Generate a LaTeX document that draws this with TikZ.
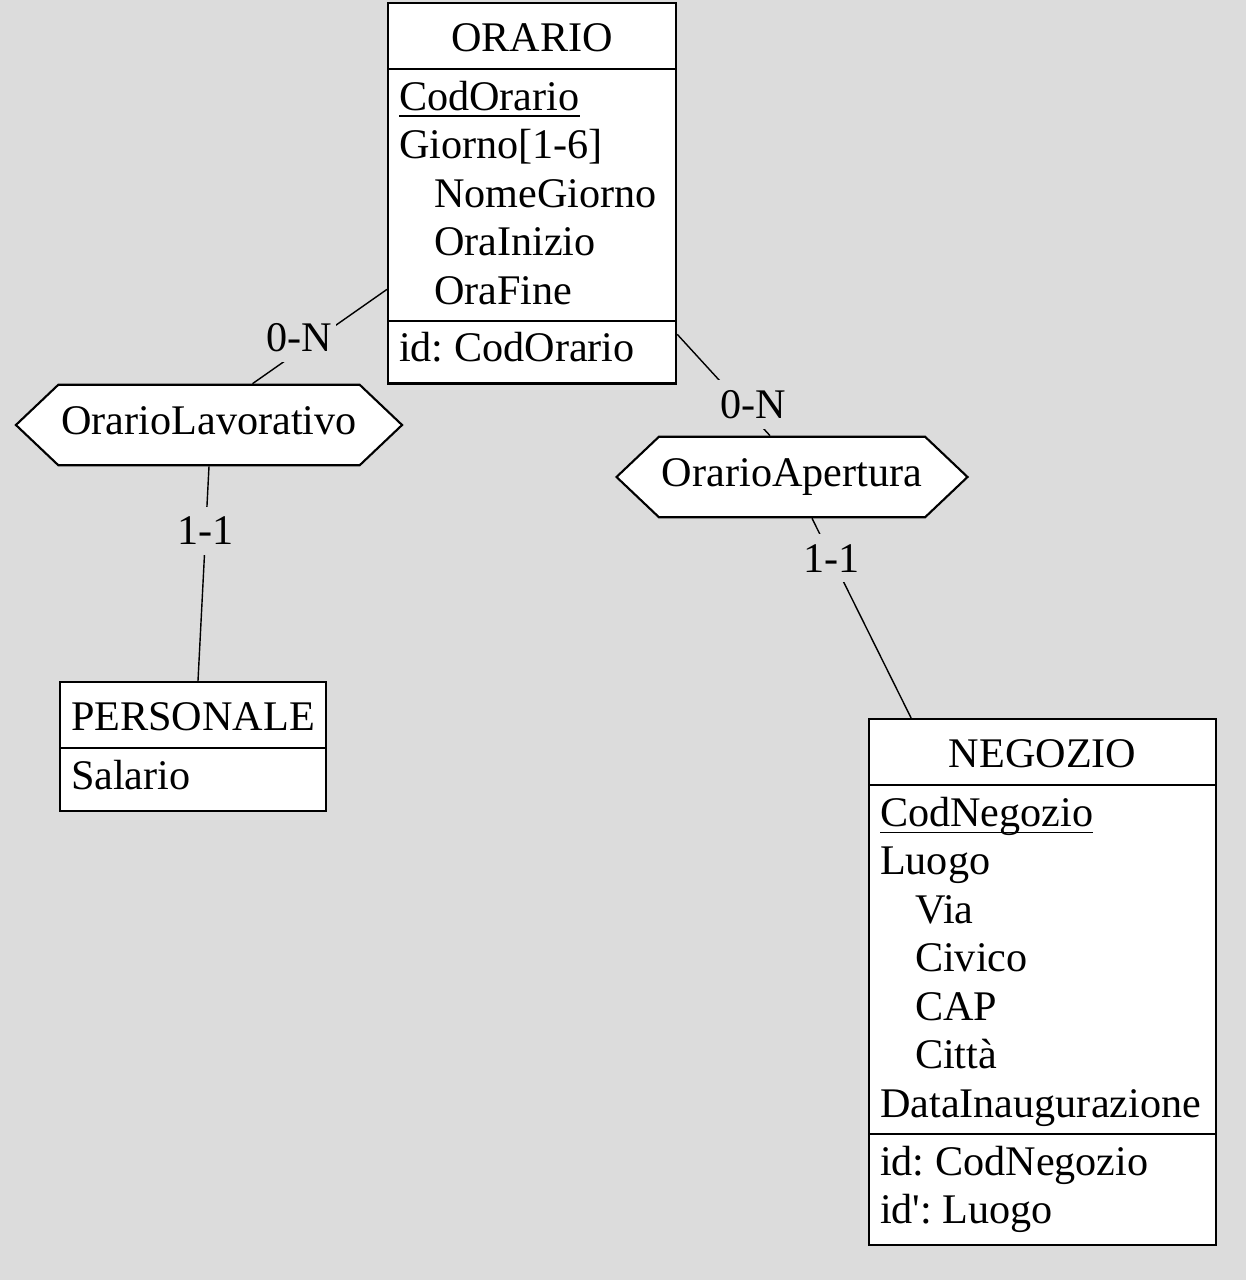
\documentclass[tikz,border=0pt]{standalone}
\usepackage{fontspec}
\setmainfont{Liberation Serif}
\usetikzlibrary{shapes.multipart,shapes.symbols}
\definecolor{sfondo}{RGB}{220,220,220}
\frenchspacing
% underlined identifier, line close under the baseline
\newcommand{\chiave}[1]{\setbox0\hbox{#1}\rlap{\rule[-2pt]{\wd0}{0.5pt}}#1}
\newcommand{\sotto}{\hspace*{0.35cm}}
% struts for title line and last attribute line
\newcommand{\testa}{\rule[-0.105cm]{0pt}{0.52cm}}
\newcommand{\fine}{\rule[-0.095cm]{0pt}{0.095cm}}
\tikzset{
    %Define style for entities
    entita/.style={
           rectangle split,
           rectangle split parts=#1,
           rectangle split part align={center,left,left},
           draw=black, line width=0.6pt,
           fill=white,
           align=left,
           anchor=north west,
           inner xsep=0.11cm,
           inner ysep=0.06cm},
    %Define style for relationships
    relazione/.style={
           signal,
           signal to=west and east,
           signal pointer angle=87,
           draw=black, line width=0.6pt,
           fill=white,
           inner xsep=0.03cm,
           inner ysep=0.16cm},
    % cardinalities
    card/.style={
           fill=sfondo,
           inner xsep=0.04cm,
           inner ysep=0.1cm},
    collega/.style={
           draw=black,
           line width=0.4pt}
}
\begin{document}
\begin{tikzpicture}[x=0.01cm,y=-0.01cm,font=\fontsize{12}{13.8}\selectfont]
\fill[sfondo] (0,0) rectangle (1246,1280);
\useasboundingbox (0,0) rectangle (1246,1280);

 %entities
\node[entita=3, minimum width=2.88cm] (orario) at (387,2)
    {\testa ORARIO
     \nodepart{two}\strut\chiave{CodOrario}\\
        Giorno[1-6]\\
        \sotto NomeGiorno\\
        \sotto OraInizio\\
        \sotto OraFine\fine
     \nodepart{three}\strut id: CodOrario\strut};
\node[entita=2, minimum width=2.62cm] (personale) at (59,681)
    {\testa PERSONALE
     \nodepart{two}\strut Salario\strut};
\node[entita=3, minimum width=3.47cm] (negozio) at (868,718)
    {\testa NEGOZIO
     \nodepart{two}\strut\chiave{CodNegozio}\\
        Luogo\\
        \sotto Via\\
        \sotto Civico\\
        \sotto CAP\\
        \sotto Città\\
        DataInaugurazione\fine
     \nodepart{three}\strut id: CodNegozio\\
        id\textquotesingle: Luogo\strut};

 %relationships
\node[relazione] (lavorativo) at (209,425) {\strut OrarioLavorativo};
\node[relazione] (apertura) at (792,477) {\strut OrarioApertura};

\draw[collega] ([yshift=-0.96cm]orario.west)
    -- node[card, pos=0.51, xshift=-0.19cm] {0-N} ([xshift=0.435cm]lavorativo.north);
\draw[collega] ([yshift=-1.41cm]orario.east)
    -- node[card, pos=0.69, xshift=0.12cm] {0-N} ([xshift=-0.22cm]apertura.north);
\draw[collega] (lavorativo.south)
    -- node[card, pos=0.3] {1-1} ([xshift=0.05cm]personale.north);
\draw[collega] ([xshift=0.2cm]apertura.south)
    -- node[card, pos=0.2] {1-1} ([xshift=-1.315cm]negozio.north);

\end{tikzpicture}
\end{document}
